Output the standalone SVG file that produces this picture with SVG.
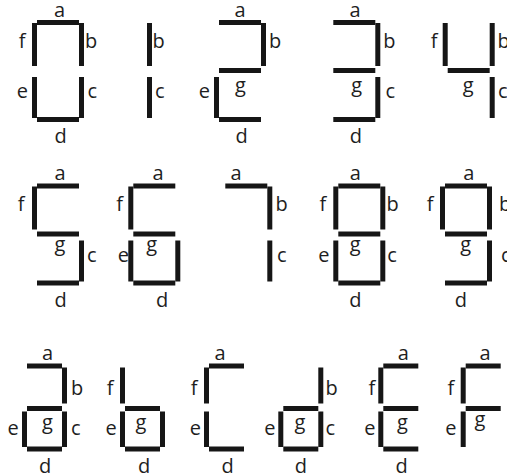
<svg xmlns="http://www.w3.org/2000/svg" xmlns:xlink="http://www.w3.org/1999/xlink" width="507" height="475" viewBox="0 0 507 475">
<style>
.seg{fill:#161616}
text{font-family:"Open Sans","DejaVu Sans",sans-serif;font-size:20px;fill:#1e1e1e}
.m{text-anchor:middle}.s{text-anchor:start}.e{text-anchor:end}
</style>
<defs>
<rect id="bA" class="seg" x="5" y="0" width="42" height="5"/>
<rect id="bF" class="seg" x="0" y="3" width="5" height="43"/>
<rect id="bB" class="seg" x="47" y="3" width="5" height="43"/>
<rect id="bG" class="seg" x="5" y="48" width="42" height="5"/>
<rect id="bE" class="seg" x="0" y="57" width="5" height="41"/>
<rect id="bC" class="seg" x="47" y="57" width="5" height="41"/>
<rect id="bD" class="seg" x="5" y="97" width="42" height="5"/>
<rect id="sA" class="seg" x="5" y="0" width="35" height="5"/>
<rect id="sF" class="seg" x="0" y="4" width="5" height="36"/>
<rect id="sB" class="seg" x="40" y="4" width="5" height="36"/>
<rect id="sG" class="seg" x="5" y="42.5" width="35" height="5"/>
<rect id="sE" class="seg" x="0" y="48" width="5" height="35.5"/>
<rect id="sC" class="seg" x="40" y="48" width="5" height="35.5"/>
<rect id="sD" class="seg" x="5" y="83" width="35" height="5"/>
</defs>
<rect width="507" height="475" fill="#ffffff"/>

<g id="digit-0">
<g transform="translate(32,20)"><use href="#bA"/><use href="#bB"/><use href="#bC"/><use href="#bD"/><use href="#bE"/><use href="#bF"/></g>
<text class="m" x="59.5" y="16.5">a</text><text class="e" x="25.5" y="47.5">f</text><text class="s" x="85" y="47.5">b</text>
<text class="e" x="28" y="98">e</text><text class="s" x="87.5" y="98">c</text><text class="m" x="60.5" y="143">d</text>
</g>
<g id="digit-1">
<g transform="translate(100,20)"><use href="#bB"/><use href="#bC"/></g>
<text class="s" x="152.5" y="47.5">b</text><text class="s" x="155" y="98">c</text>
</g>
<g id="digit-2">
<g transform="translate(214,20)"><use href="#bA"/><use href="#bB"/><use href="#bG"/><use href="#bE"/><use href="#bD"/></g>
<text class="m" x="240" y="16.5">a</text><text class="s" x="269" y="47.5">b</text><text class="m" x="240.5" y="91.5">g</text>
<text class="e" x="210" y="98">e</text><text class="m" x="241.5" y="143">d</text>
</g>
<g id="digit-3">
<g transform="translate(328.3,20)"><use href="#bA"/><use href="#bB"/><use href="#bG"/><use href="#bC"/><use href="#bD"/></g>
<text class="m" x="355" y="16.5">a</text><text class="s" x="383.3" y="47.5">b</text><text class="m" x="356.7" y="91.5">g</text>
<text class="s" x="385.5" y="98">c</text><text class="m" x="355.8" y="143">d</text>
</g>
<g id="digit-4">
<g transform="translate(442.7,20)"><use href="#bF"/><use href="#bB"/><use href="#bG"/><use href="#bC"/></g>
<text class="e" x="437.5" y="47.5">f</text><text class="s" x="497.5" y="47.5">b</text><text class="m" x="468.3" y="91.5">g</text>
<text class="s" x="498" y="98">c</text>
</g>

<g id="digit-5">
<g transform="translate(32,183.5)"><use href="#bA"/><use href="#bF"/><use href="#bG"/><use href="#bC"/><use href="#bD"/></g>
<text class="m" x="60" y="180">a</text><text class="e" x="24.5" y="211">f</text><text class="m" x="60" y="250.5">g</text>
<text class="s" x="87" y="261.5">c</text><text class="m" x="60.5" y="306.5">d</text>
</g>
<g id="digit-6">
<g transform="translate(128.3,183.5)"><use href="#bA"/><use href="#bF"/><use href="#bG"/><use href="#bE"/><use href="#bC"/><use href="#bD"/></g>
<text class="m" x="158" y="180">a</text><text class="e" x="123" y="211">f</text><text class="m" x="151.7" y="250.5">g</text>
<text class="e" x="129" y="261.5">e</text><text class="m" x="162" y="306.5">d</text>
</g>
<g id="digit-7">
<g transform="translate(220.3,183.5)"><use href="#bA"/><use href="#bB"/><use href="#bC"/></g>
<text class="m" x="236" y="180">a</text><text class="s" x="275.5" y="211">b</text><text class="s" x="277" y="261.5">c</text>
</g>
<g id="digit-8">
<g transform="translate(333.3,183.5)"><use href="#bA"/><use href="#bB"/><use href="#bC"/><use href="#bD"/><use href="#bE"/><use href="#bF"/><use href="#bG"/></g>
<text class="m" x="355.3" y="180">a</text><text class="e" x="326.3" y="211">f</text><text class="s" x="386.6" y="211">b</text>
<text class="m" x="355.3" y="250.5">g</text><text class="e" x="329.5" y="261.5">e</text><text class="s" x="387.2" y="261.5">c</text>
<text class="m" x="355.3" y="306.5">d</text>
</g>
<g id="digit-9">
<g transform="translate(440,183.5)"><use href="#bA"/><use href="#bB"/><use href="#bF"/><use href="#bG"/><use href="#bC"/><use href="#bD"/></g>
<text class="m" x="468.7" y="180">a</text><text class="e" x="433.5" y="211">f</text><text class="s" x="499" y="211">b</text>
<text class="m" x="465.7" y="250.5">g</text><text class="s" x="501" y="261.5">c</text><text class="m" x="460.8" y="306.5">d</text>
</g>

<g id="letter-a">
<g transform="translate(22,363.5)"><use href="#sA"/><use href="#sB"/><use href="#sG"/><use href="#sE"/><use href="#sC"/><use href="#sD"/></g>
<text class="m" x="47.5" y="359.5">a</text><text class="s" x="71" y="394.5">b</text><text class="m" x="47.5" y="429">g</text>
<text class="e" x="18.7" y="435">e</text><text class="s" x="71" y="435">c</text><text class="m" x="45" y="473">d</text>
</g>
<g id="letter-b">
<g transform="translate(120,363.5)"><use href="#sF"/><use href="#sG"/><use href="#sE"/><use href="#sC"/><use href="#sD"/></g>
<text class="e" x="113.5" y="394.5">f</text><text class="m" x="141" y="429">g</text>
<text class="e" x="116.7" y="435">e</text><text class="m" x="144" y="473">d</text>
</g>
<g id="letter-c">
<g transform="translate(204,363.5)"><use href="#sA"/><use href="#sF"/><use href="#sE"/><use href="#sD"/></g>
<text class="m" x="220" y="359.5">a</text><text class="e" x="197.5" y="394.5">f</text>
<text class="e" x="201" y="435">e</text><text class="m" x="227.5" y="473">d</text>
</g>
<g id="letter-d">
<g transform="translate(278.3,363.5)"><use href="#sB"/><use href="#sG"/><use href="#sE"/><use href="#sC"/><use href="#sD"/></g>
<text class="s" x="325.6" y="394.5">b</text><text class="m" x="300" y="429">g</text>
<text class="e" x="275.5" y="435">e</text><text class="s" x="325.5" y="435">c</text><text class="m" x="300.8" y="473">d</text>
</g>
<g id="letter-E">
<g transform="translate(378.3,363.5)"><use href="#sA"/><use href="#sF"/><use href="#sG"/><use href="#sE"/><use href="#sD"/></g>
<text class="m" x="403.3" y="359.5">a</text><text class="e" x="375.3" y="394.5">f</text><text class="m" x="402.5" y="429">g</text>
<text class="e" x="375.5" y="435">e</text><text class="m" x="401.7" y="473">d</text>
</g>
<g id="letter-F">
<g transform="translate(460.7,363.5)"><use href="#sA"/><use href="#sF"/><use href="#sG"/><use href="#sE"/></g>
<text class="m" x="485" y="359.5">a</text><text class="e" x="454.3" y="394.5">f</text><text class="m" x="480" y="425.5">g</text>
<text class="e" x="456.5" y="435">e</text>
</g>
</svg>
